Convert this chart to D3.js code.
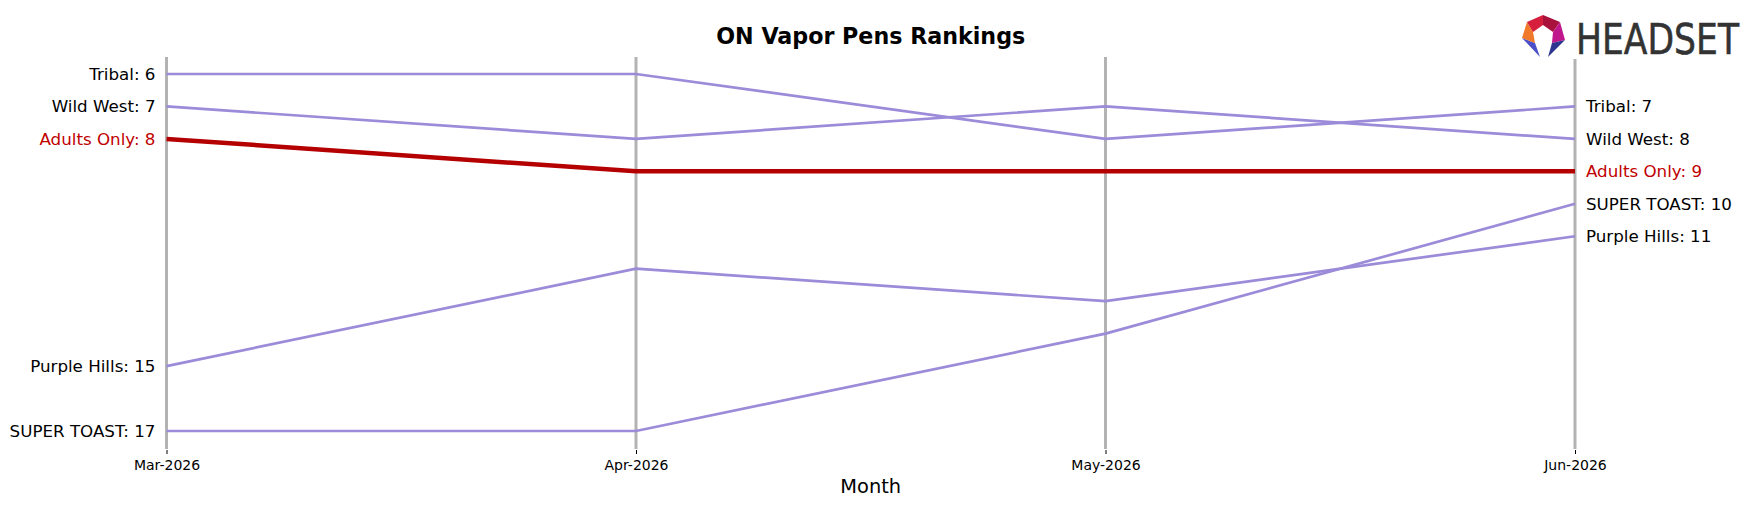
<!DOCTYPE html>
<html>
<head>
<meta charset="utf-8">
<script src="https://cdn.jsdelivr.net/npm/d3@7"></script>
<style>
  body { margin: 0; background: #fff; }
  text { font-family: "DejaVu Sans", sans-serif; }
</style>
</head>
<body>
<div id="chart"></div>
<script>
// data
const months = ['Mar-2026', 'Apr-2026', 'May-2026', 'Jun-2026']
const brands = ['Tribal', 'Wild West', 'Purple Hills', 'SUPER TOAST', 'Adults Only']
const tribal = [6, 6, 8, 7]
const wildWest = [7, 8, 7, 8]
const purpleHills = [15, 12, 13, 11]
const superToast = [17, 17, 14, 10]
const adultsOnly = [8, 9, 9, 9]
const highlight = 'Adults Only'

const series = [tribal, wildWest, purpleHills, superToast, adultsOnly]
  .map((values, i) => ({ name: brands[i], values }))

const fullWidth = 1757, fullHeight = 507

const svg = d3.select('#chart')
  .append('svg')
    .attr('width', fullWidth)
    .attr('height', fullHeight)

const xScale = d3.scalePoint()
  .domain(months)
  .range([166.5, 1575])

const yScale = d3.scaleLinear()
  .domain([6, 17])
  .range([74, 431])

// vertical month lines
svg.append('g')
  .selectAll('line')
  .data(months)
  .enter()
  .append('line')
    .attr('x1', d => xScale(d))
    .attr('x2', d => xScale(d))
    .attr('y1', 57)
    .attr('y2', 449)
    .attr('stroke', '#b3b3b3')
    .attr('stroke-width', 3)

// bottom axis, ticks only
const axis = svg.append('g')
  .attr('transform', 'translate(0, 450)')
  .call(d3.axisBottom(xScale).tickSize(4).tickPadding(6))
axis.select('.domain').remove()
axis.selectAll('.tick line').attr('stroke', '#000').attr('stroke-width', 1)
axis.selectAll('.tick text')
  .attr('font-family', 'DejaVu Sans')
  .attr('font-size', 14)
  .attr('fill', '#000')

const line = d3.line()
  .x((d, i) => xScale(months[i]))
  .y(d => yScale(d))

const ordered = series.filter(s => s.name !== highlight)
  .concat(series.filter(s => s.name === highlight))

svg.append('g')
  .selectAll('path')
  .data(ordered)
  .enter()
  .append('path')
    .attr('d', d => line(d.values))
    .attr('fill', 'none')
    .attr('stroke', d => d.name === highlight ? '#b50000' : '#9b8bd9')
    .attr('stroke-width', d => d.name === highlight ? 4.5 : 2.7)

// end labels
const labelColor = d => d.name === highlight ? '#c00000' : '#000'

svg.append('g')
  .selectAll('text')
  .data(series)
  .enter()
  .append('text')
    .attr('x', xScale(months[0]) - 11)
    .attr('y', d => yScale(d.values[0]))
    .attr('dy', '0.36em')
    .attr('text-anchor', 'end')
    .attr('font-size', 16.7)
    .attr('fill', labelColor)
    .text(d => `${d.name}: ${d.values[0]}`)

svg.append('g')
  .selectAll('text')
  .data(series)
  .enter()
  .append('text')
    .attr('x', xScale(months[3]) + 11)
    .attr('y', d => yScale(d.values[3]))
    .attr('dy', '0.36em')
    .attr('font-size', 16.7)
    .attr('fill', labelColor)
    .text(d => `${d.name}: ${d.values[3]}`)

// titles
svg.append('text')
  .attr('x', (xScale.range()[0] + xScale.range()[1]) / 2)
  .attr('y', 44)
  .attr('text-anchor', 'middle')
  .attr('font-size', 22.2)
  .attr('font-weight', 'bold')
  .text('ON Vapor Pens Rankings')

svg.append('text')
  .attr('x', (xScale.range()[0] + xScale.range()[1]) / 2)
  .attr('y', 493)
  .attr('text-anchor', 'middle')
  .attr('font-size', 19.4)
  .text('Month')

// logo
const logo = svg.append('g')
logo.append('rect')
  .attr('x', 1515).attr('y', 0).attr('width', 235).attr('height', 59)
  .attr('fill', '#fff')

const O = [[1540, 57], [1522, 38], [1527, 22], [1543, 15], [1560, 22], [1565, 40], [1548, 57]]
const I = [[1535, 43], [1533, 32], [1543, 25], [1553, 32], [1552, 43]]
const pieces = [
  { pts: [O[0], O[1], I[0]], fill: '#4b4fc8' },
  { pts: [O[1], O[2], I[1], I[0]], fill: '#f07a2a' },
  { pts: [O[2], O[3], I[2], I[1]], fill: '#d61f3c' },
  { pts: [O[3], O[4], I[3], I[2]], fill: '#a8123c' },
  { pts: [O[4], O[5], I[4], I[3]], fill: '#c0178c' },
  { pts: [O[5], O[6], I[4]], fill: '#2e3590' }
]
logo.selectAll('polygon')
  .data(pieces)
  .enter()
  .append('polygon')
    .attr('points', d => d.pts.map(p => p.join(',')).join(' '))
    .attr('fill', d => d.fill)

logo.append('text')
  .attr('transform', 'translate(1576, 54) scale(1, 1.2)')
  .attr('font-family', 'DejaVu Sans Condensed, DejaVu Sans')
  .attr('font-size', 36)
  .attr('fill', '#333')
  .attr('stroke', '#333')
  .attr('stroke-width', 0.5)
  .attr('textLength', 163)
  .attr('lengthAdjust', 'spacingAndGlyphs')
  .text('HEADSET')
</script>
</body>
</html>
